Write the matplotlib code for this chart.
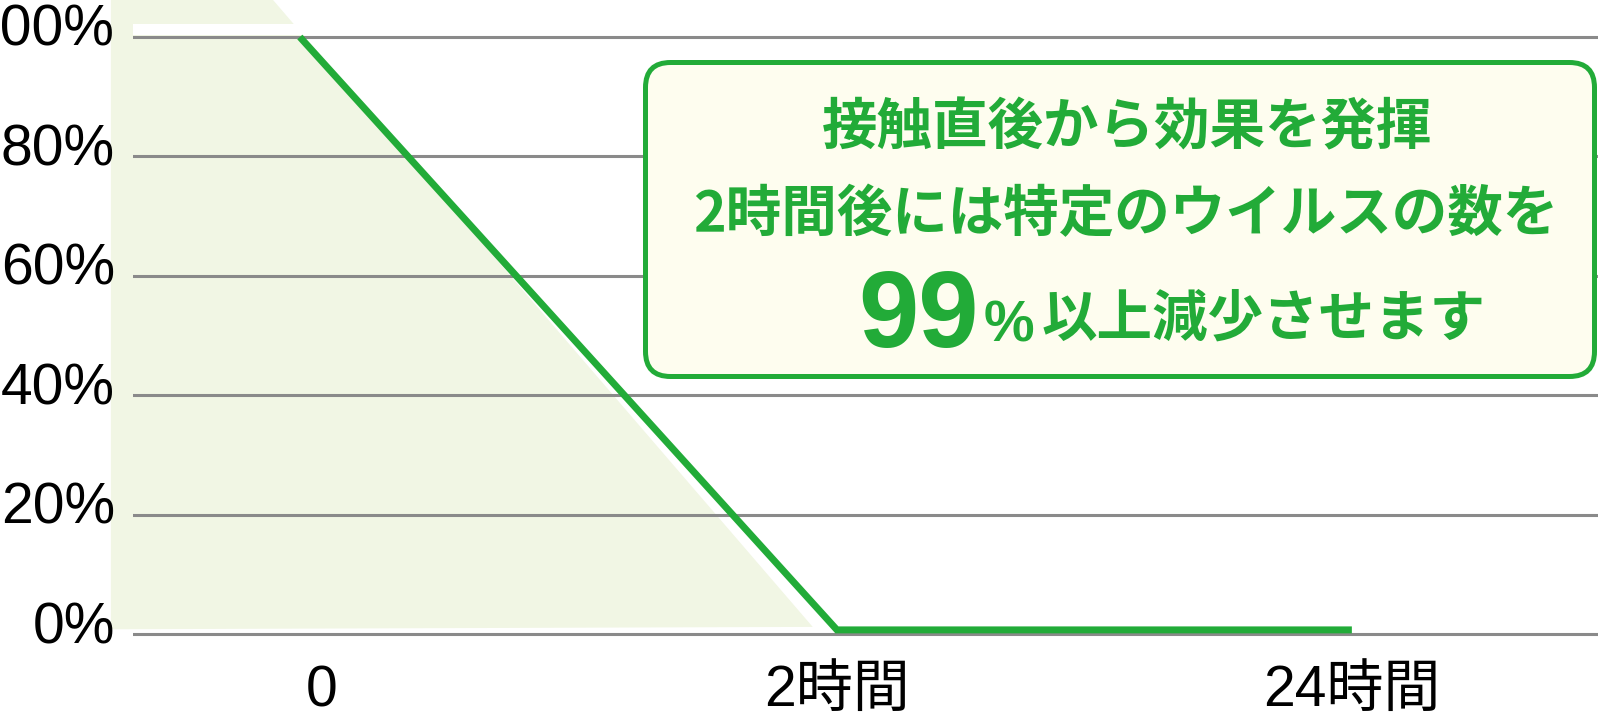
import matplotlib
matplotlib.use("Agg")
import matplotlib.pyplot as plt
from matplotlib.patches import FancyBboxPatch, Polygon, Rectangle
from matplotlib.transforms import IdentityTransform, blended_transform_factory

# --- data ---
y_ticks = [0, 20, 40, 60, 80, 100]
y_labels = ["0%", "20%", "40%", "60%", "80%", "100%"]
x_ticks = [0, 1, 2]
x_labels = ["0", "2時間", "24時間"]

# remaining virus (%) over time
line_x = [-0.043, 1.0, 2.0]
line_y = [100.0, 0.7, 0.7]

# light green backdrop behind the curve
shade_x = [-0.410, -0.095, 0.953, -0.410]
shade_y = [106.2, 106.2, 1.2, 0.8]

msg_line1 = "接触直後から効果を発揮"
msg_line2 = "2時間後には特定のウイルスの数を"
msg_big = "99"
msg_pct = "%"
msg_rest = "以上減少させます"

GREEN = "#22ab38"
SHADE = "#f1f6e4"
GRID = "#8a8a8a"
BOX_FILL = "#fefdef"

W, H = 1600, 714
fig = plt.figure(figsize=(W / 100, H / 100), dpi=100)
fig.patch.set_facecolor("white")

# axes placed in pixel terms: gridlines start at x=133, 0% line at y=634
ax = fig.add_axes([133 / W, (H - 646) / H, (1598 - 133) / W, 646 / H])
ax.set_xlim(-0.367, 2.478)
ax.set_ylim(-2, 106.2)
ax.axis("off")

ax.add_patch(Polygon(list(zip(shade_x, shade_y)), closed=True,
                     facecolor=SHADE, edgecolor="none", zorder=1, clip_on=False))
ax.add_patch(Rectangle((-0.367, 100.3), 0.367, 1.9, facecolor="white",
                       edgecolor="none", zorder=1.5))

for v in y_ticks:
    ax.axhline(v, color=GRID, lw=2.2, zorder=2)

ax.plot(line_x, line_y, color=GREEN, lw=5.0, zorder=3,
        solid_joinstyle="miter", solid_capstyle="butt")

label_font = ["Liberation Sans", "Noto Sans CJK JP"]

# y labels, right aligned at x=115 px, sitting a bit above their gridline
ytrans = blended_transform_factory(fig.transFigure, ax.transData)
for v, lab in zip(y_ticks, y_labels):
    ax.text(115 / W, v - 1.5, lab, transform=ytrans, ha="right", va="baseline",
            fontsize=41, family=label_font, color="black")

for v, lab in zip(x_ticks, x_labels):
    ax.text(v, -12.1, lab, ha="center", va="baseline", fontsize=41,
            family=label_font, color="black", clip_on=False)

# message box (pixel coords, origin top-left)
def disp(px, py):
    return px, H - py

bx0, by0 = disp(645.5, 376.5)
box = FancyBboxPatch((bx0, by0), 1594.5 - 645.5, 376.5 - 62.5,
                     boxstyle="round,pad=0,rounding_size=25",
                     transform=IdentityTransform(),
                     facecolor=BOX_FILL, edgecolor=GREEN, lw=3.6, zorder=5)
fig.add_artist(box)

jp_bold = dict(family=["Noto Sans CJK JP", "DejaVu Sans"], fontweight="bold",
               color=GREEN, transform=IdentityTransform(), zorder=6)
latin_bold = dict(family=["Liberation Sans", "DejaVu Sans"], fontweight="bold",
                  color=GREEN, transform=IdentityTransform(), zorder=6)

fig.text(*disp(822, 144), msg_line1, ha="left", va="baseline", fontsize=40, **jp_bold)
fig.text(*disp(693, 231), msg_line2, ha="left", va="baseline", fontsize=40, **jp_bold)
fig.text(*disp(858, 347), msg_big, ha="left", va="baseline", fontsize=78, **latin_bold)
fig.text(*disp(984, 341), msg_pct, ha="left", va="baseline", fontsize=41, **latin_bold)
fig.text(*disp(1042, 336), msg_rest, ha="left", va="baseline", fontsize=40, **jp_bold)

fig.savefig("out.png", dpi=100)
